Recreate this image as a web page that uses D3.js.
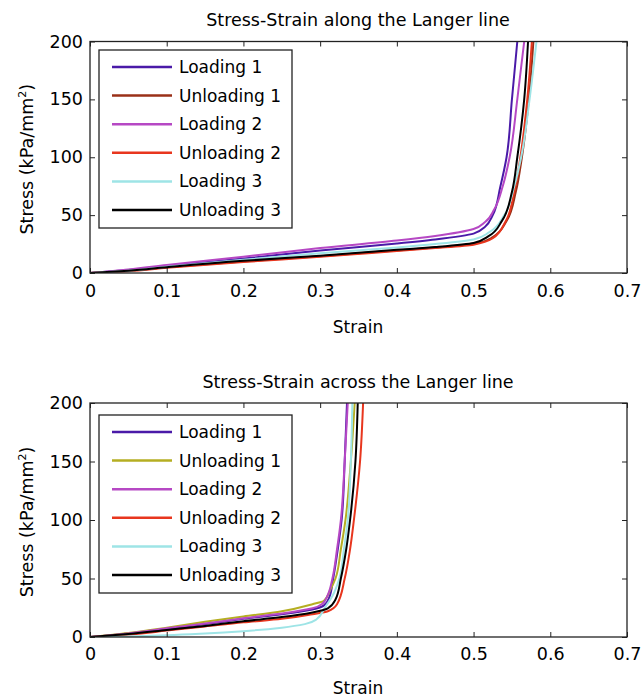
<!DOCTYPE html>
<html><head><meta charset="utf-8">
<script src="https://cdn.jsdelivr.net/npm/d3@7"></script>
<style>body{margin:0;background:#fff}svg{display:block}text{font-family:"DejaVu Sans",sans-serif;fill:#000}</style>
</head><body><svg id="c" width="641" height="699"></svg>
<script>
const seriesNames = ["Loading 1","Unloading 1","Loading 2","Unloading 2","Loading 3","Unloading 3"];
const colorsTop = ["#4a1aa8","#9a3018","#b648c4","#e8361e","#9ee4e6","#000000"];
const colorsBottom = ["#4a1aa8","#b5ae22","#b648c4","#e8361e","#9ee4e6","#000000"];
const xTicks = [0,0.1,0.2,0.3,0.4,0.5,0.6,0.7];
const yTicks = [0,50,100,150,200];
const titles = ["Stress-Strain along the Langer line","Stress-Strain across the Langer line"];

// Top chart (along): strain / stress per series
const alongStrain = [
 [0,0.05,0.1,0.2,0.3,0.4,0.45,0.5,0.515,0.525,0.535,0.543,0.55,0.557],
 [0,0.05,0.1,0.2,0.3,0.4,0.45,0.5,0.525,0.543,0.555,0.563,0.572,0.578],
 [0,0.05,0.1,0.2,0.3,0.4,0.45,0.5,0.515,0.527,0.538,0.547,0.557,0.566],
 [0,0.05,0.1,0.2,0.3,0.4,0.45,0.5,0.525,0.542,0.553,0.561,0.57,0.576],
 [0,0.05,0.1,0.2,0.3,0.4,0.45,0.5,0.52,0.54,0.553,0.562,0.573,0.582],
 [0,0.05,0.1,0.2,0.3,0.4,0.45,0.5,0.52,0.537,0.55,0.557,0.566,0.571]
];
const alongStress = [
 [0,2.5,6,12.5,19.5,25.5,29,34,40,50,75,100,150,200],
 [0,2,5,10,14.5,19.5,22,25,31,45,70,100,150,200],
 [0,3,7,14,21.5,28,32,38,44,55,75,100,150,200],
 [0,1.5,4.5,9.5,14,19,21.5,24.5,30,45,70,100,150,200],
 [0,2,5.5,11.5,17,22,25,29,35,50,75,100,150,200],
 [0,2,5,10.5,15,20,22.5,26,32,45,70,100,150,200]
];
// Bottom chart (across)
const acrossStrain = [
 [0,0.05,0.1,0.15,0.2,0.25,0.29,0.305,0.312,0.317,0.323,0.328,0.332,0.335],
 [0,0.05,0.1,0.15,0.2,0.25,0.29,0.305,0.313,0.32,0.327,0.333,0.34,0.345],
 [0,0.05,0.1,0.15,0.2,0.25,0.29,0.303,0.31,0.316,0.322,0.327,0.332,0.336],
 [0,0.05,0.1,0.15,0.2,0.25,0.29,0.31,0.322,0.332,0.339,0.344,0.352,0.356],
 [0,0.05,0.1,0.15,0.2,0.25,0.28,0.295,0.306,0.316,0.325,0.331,0.336,0.34,0.342],
 [0,0.05,0.1,0.15,0.2,0.25,0.29,0.31,0.32,0.327,0.334,0.339,0.346,0.349]
];
const acrossStress = [
 [0,3,7,11,15.5,19.5,23.5,27,34,50,75,100,150,200],
 [0,3.5,8,13,17.5,22,28,31,40,50,75,100,150,200],
 [0,3,7.5,11.5,16,20,24.5,28.5,36,50,75,100,150,200],
 [0,2,5.5,9,12.5,15.5,19.5,22,28,50,75,100,150,200],
 [0,0.5,1.5,3,5,8,11,15,25,35,50,75,100,150,200],
 [0,2.5,6,9.5,13.5,17,21,24.5,32,50,75,100,150,200]
];

const svg = d3.select("#c");
const panels = [
 {top:41.5, bottom:273, strain:alongStrain, stress:alongStress, colors:colorsTop, titleY:26, xlabY:333, legTop:50, tickPad:12},
 {top:403, bottom:637, strain:acrossStrain, stress:acrossStress, colors:colorsBottom, titleY:388, xlabY:694, legTop:415, tickPad:11}
];
const left=90, right=627;
panels.forEach((p,pi)=>{
  const g = svg.append("g");
  const x = d3.scaleLinear().domain([0,0.7]).range([left,right]);
  const y = d3.scaleLinear().domain([0,200]).range([p.bottom,p.top]);
  const clipId = "clip"+pi;
  g.append("clipPath").attr("id",clipId).append("rect").attr("x",left).attr("y",p.top).attr("width",right-left).attr("height",p.bottom-p.top);
  const line = d3.line().x(d=>x(d[0])).y(d=>y(d[1])).curve(d3.curveMonotoneY);
  const lg = g.append("g").attr("clip-path",`url(#${clipId})`);
  seriesNames.forEach((n,i)=>{
    const pts = p.strain[i].map((s,k)=>[s,p.stress[i][k]]);
    lg.append("path").attr("d",line(pts)).attr("fill","none").attr("stroke",p.colors[i]).attr("stroke-width",2);
  });
  // axes: inward ticks, mirrored
  const tl=5;
  const axB = d3.axisBottom(x).tickValues(xTicks).tickSize(-tl).tickPadding(p.tickPad).tickFormat(d=>d===0?"0":d3.format(".1f")(d));
  const axT = d3.axisTop(x).tickValues(xTicks).tickSize(-tl).tickFormat("");
  const axL = d3.axisLeft(y).tickValues(yTicks).tickSize(-tl).tickPadding(7);
  const axR = d3.axisRight(y).tickValues(yTicks).tickSize(-tl).tickFormat("");
  const gb=g.append("g").attr("transform",`translate(0,${p.bottom})`).call(axB);
  const gt=g.append("g").attr("transform",`translate(0,${p.top})`).call(axT);
  const gl=g.append("g").attr("transform",`translate(${left},0)`).call(axL);
  const gr=g.append("g").attr("transform",`translate(${right},0)`).call(axR);
  [gb,gt,gl,gr].forEach(a=>{a.selectAll(".domain").remove();a.selectAll("line").attr("stroke","#222");a.selectAll("text").style("font-size","17.5px").style("font-family","'DejaVu Sans',sans-serif").attr("fill","#000");});
  g.append("rect").attr("x",left).attr("y",p.top).attr("width",right-left).attr("height",p.bottom-p.top).attr("fill","none").attr("stroke","#222").attr("stroke-width",1.3);
  // title & labels
  g.append("text").attr("x",358).attr("y",p.titleY).attr("text-anchor","middle").style("font-size","17.5px").text(titles[pi]);
  g.append("text").attr("x",358).attr("y",p.xlabY).attr("text-anchor","middle").style("font-size","17px").text("Strain");
  const yl = g.append("text").attr("transform",`translate(33,${(p.top+p.bottom)/2+2}) rotate(-90)`).attr("text-anchor","middle").style("font-size","17.5px");
  yl.append("tspan").text("Stress (kPa/mm");
  yl.append("tspan").attr("dy",-7).style("font-size","11px").text("2");
  yl.append("tspan").attr("dy",7).text(")");
  // legend
  const lx=99, lw=193, lh=178;
  const leg = g.append("g");
  leg.append("rect").attr("x",lx).attr("y",p.legTop).attr("width",lw).attr("height",lh).attr("fill","#fff").attr("stroke","#222").attr("stroke-width",1.3);
  seriesNames.forEach((n,i)=>{
    const yy = p.legTop+17+i*28.6;
    leg.append("line").attr("x1",112).attr("x2",172).attr("y1",yy).attr("y2",yy).attr("stroke",p.colors[i]).attr("stroke-width",2.5);
    leg.append("text").attr("x",179).attr("y",yy+6).style("font-size","17px").text(n);
  });
});
</script></body></html>
